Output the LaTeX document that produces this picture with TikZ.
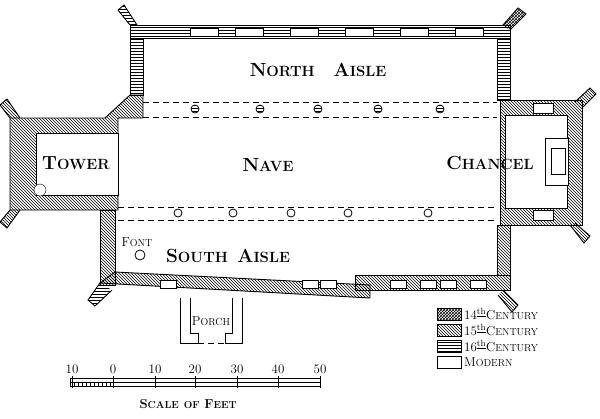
\documentclass[tikz,border=0pt]{standalone}
\usetikzlibrary{patterns}
\newcommand\scap[2]{#1\scalebox{0.78}{#2}}
\tikzset{
  cxiv/.style={draw, line width=0.9pt, pattern=crosshatch, pattern color=black},
  cxv/.style={draw, line width=0.9pt, pattern=north west lines},
  cxvi/.style={draw, line width=0.9pt, pattern=horizontal lines},
  modern/.style={draw, line width=0.9pt, fill=white},
  arcade/.style={dashed, dash pattern=on 6pt off 4pt, line width=0.8pt},
  lbl/.style={font=\fontsize{19}{22}\selectfont\bfseries},
  sml/.style={font=\fontsize{13}{15}\selectfont},
  win/.style={draw, line width=0.7pt, fill=white},
}
\begin{document}
\begin{tikzpicture}[x=1pt,y=-1pt]
\useasboundingbox (0,0) rectangle (600,418);
% north aisle walls
\draw[cxvi] (130,25) rectangle (510,38);
\draw[cxvi] (130,38) rectangle (143,95);
\draw[cxvi] (497,38) rectangle (510,100);
\foreach \x in {190,235,290,345,400,455}
  \draw[win] (\x,28) rectangle ++(28,8);
\draw[cxvi] (130,25) -- (118,10) -- (124,5) -- (137,25);
\draw[cxiv] (503,25) -- (518,8) -- (526,14) -- (510,30);
% tower
\draw[cxv] (10,118) -- (105,118) -- (130,95) -- (143,95) -- (143,118) -- (118,118)
  -- (118,210) -- (10,210) -- cycle;
\draw[modern] (36,133) rectangle (118,195);
\draw[cxv] (10,118) -- (0,105) -- (7,99) -- (20,118);
\draw[cxv] (10,210) -- (0,222) -- (7,228) -- (20,210);
\node[draw, circle, minimum size=12pt, fill=white] (stair) at (40,190) {};
% chancel
\draw[cxv] (500,100) rectangle (582,225);
\draw[modern] (505,115) rectangle (567,208);
\draw[win] (533,103) rectangle ++(20,10);
\draw[win] (533,210) rectangle ++(20,10);
\draw[modern] (545,138) rectangle (568,185);
\node[draw, minimum width=14pt, minimum height=26pt, fill=white] (altar) at (558,161) {};
\draw[cxv] (575,102) -- (590,88) -- (596,94) -- (582,108);
\draw[cxv] (575,223) -- (590,236) -- (584,243) -- (570,225);
% south aisle walls
\draw[cxv] (100,210) rectangle (115,285);
\draw[modern] (180,298) -- (180,343) -- (198,343) -- (198,333) -- (190,333) -- (190,298);
\draw[modern] (232,298) -- (232,333) -- (225,333) -- (225,343) -- (242,343) -- (242,298);
\draw[arcade] (198,343) -- (225,343);
\draw[cxv] (100,283) -- (370,298) -- (370,285) -- (115,272) -- cycle;
\draw[cxv] (355,275) rectangle (510,290);
\draw[cxv] (497,225) rectangle (510,275);
\foreach \x in {160,302,320,390,420,440,470}
  \draw[win] (\x,280) rectangle ++(16,8);
\draw[cxvi] (100,283) -- (88,300) -- (95,306) -- (112,290);
\draw[cxv] (503,290) -- (518,305) -- (512,312) -- (498,295);
% arcades
\draw[arcade] (143,102) -- (497,102);
\draw[arcade] (143,117) -- (497,117);
\draw[arcade] (118,207) -- (497,207);
\draw[arcade] (118,220) -- (497,220);
\draw[arcade] (118,133) -- (118,195);
\foreach \x in {195,260,318,378,440}
  \draw[line width=0.8pt, pattern=horizontal lines] (\x,109) circle (4pt);
\foreach \x in {178,233,291,348,428}
  \draw[line width=0.8pt, fill=white] (\x,213) circle (4pt);
\draw[line width=0.8pt] (140,255) circle (5pt);
% labels
\node[lbl] (north) at (318,70) {\scap{N}{ORTH}\quad\scap{A}{ISLE}};
\node[lbl] (nave) at (268,165) {\scap{N}{AVE}};
\node[lbl] (tower) at (76,163) {\scap{T}{OWER}};
\node[lbl] (chancel) at (490,163) {\scap{C}{HANCEL}};
\node[lbl] (south) at (228,256) {\scap{S}{OUTH}\enspace\scap{A}{ISLE}};
\node[sml] (font) at (137,242) {\scap{F}{ONT}};
\node[sml] (porch) at (211,321) {\scap{P}{ORCH}};
% legend
\foreach \y/\s/\n in {314/cxiv/14,330/cxv/15,346/cxvi/16}{
  \draw[\s] (437,\y-6) rectangle (461,\y+6);
  \node[sml, anchor=west, inner sep=1pt] at (463,\y) {\n$^{\underline{\mathrm{th}}}$\scap{C}{ENTURY}};
}
\draw[modern] (437,356) rectangle (461,368);
\node[sml, anchor=west, inner sep=1pt] at (463,362) {\scap{M}{ODERN}};
% scale
\draw[line width=0.9pt] (70,378) rectangle (320,386);
\draw (70,382) -- (320,382);
\foreach \x in {74,78,...,110} \draw (\x,382) -- (\x,386);
\foreach \v/\x in {10/72,0/113,10/155,20/195,30/237,40/278,50/320}{
  \draw[line width=0.9pt] (\x,376) -- (\x,388);
  \node[sml] at (\x,369) {\v};
}
\node[sml, font=\fontsize{13}{15}\selectfont\bfseries] (scale) at (188,404) {\scap{S}{CALE} \scalebox{0.78}{OF} \scap{F}{EET}};
\end{tikzpicture}
\end{document}
